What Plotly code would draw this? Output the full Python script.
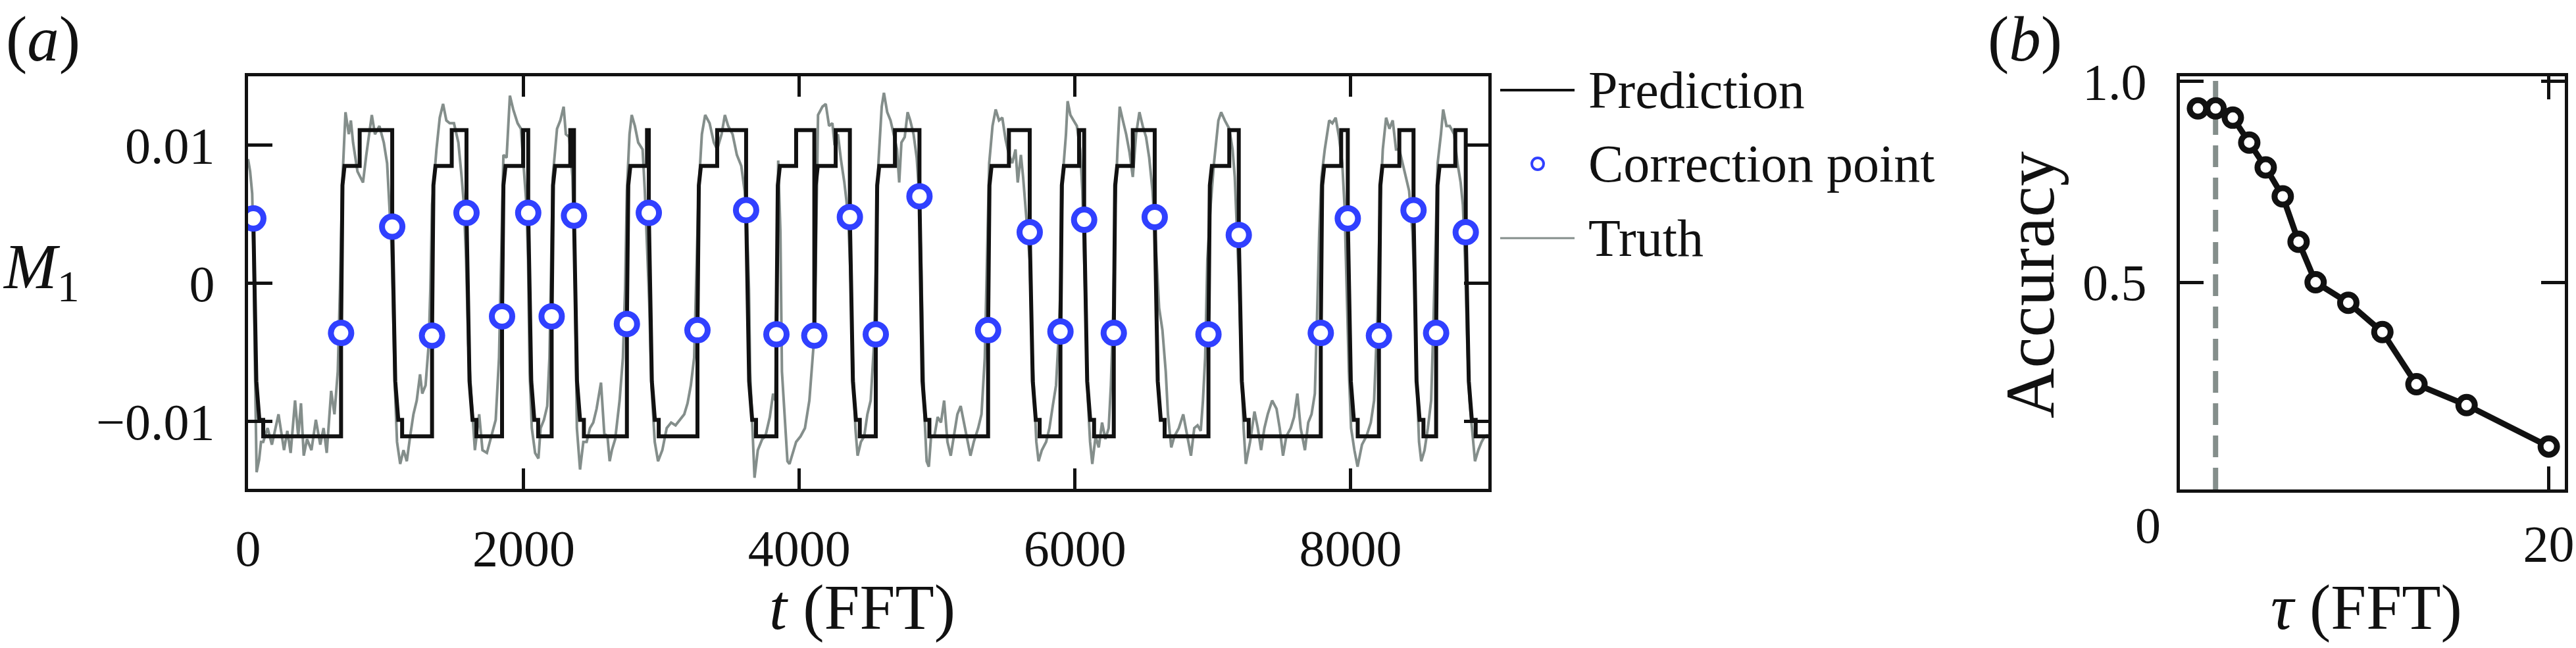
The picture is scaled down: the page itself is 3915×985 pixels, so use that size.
import numpy as np
import plotly.graph_objects as go

# ---------------- panel (a) data ----------------
# Truth signal M1 (units of 1e-3), in five stretches
truth_t_1 = [0, 15, 30, 40, 50, 62, 80, 94, 110, 142, 173, 221, 261, 285, 309, 341, 364, 384, 404, 428,
             460, 492, 524, 548, 571, 603, 627, 651, 667, 683, 707, 731, 746, 762, 794, 834, 858, 898, 921, 953,
             985, 1009, 1025, 1041, 1049, 1065, 1081, 1104, 1128, 1152, 1176, 1200, 1224, 1248, 1264, 1288, 1311, 1323, 1335, 1367,
             1391, 1415, 1439, 1463, 1494, 1526, 1550, 1566, 1582, 1598, 1622, 1646, 1677, 1701, 1733, 1765, 1797, 1821, 1837, 1853]
truth_m_1 = [9.0, 8.1, 6.5, 2.0, -6.0, -13.7, -12.8, -11.5, -11.5, -10.5, -11.7, -9.5, -12.1, -10.7, -12.3, -8.5, -11.1, -8.7, -12.5, -11.3,
             -12.1, -9.9, -11.7, -10.5, -12.3, -7.8, -9.5, -6.4, -0.4, 7.1, 12.4, 10.8, 11.8, 10.2, 8.1, 7.3, 9.3, 12.2, 10.8, 11.4,
             10.2, 8.7, 5.7, 2.7, -0.4, -7.4, -11.5, -13.1, -12.1, -12.9, -11.1, -9.5, -8.5, -6.6, -8.0, -7.4, -4.4, -0.4, 5.7, 9.7,
             12.0, 13.0, 11.8, 11.6, 11.6, 10.2, 7.7, 5.7, 1.7, -4.4, -8.5, -12.1, -9.5, -12.1, -12.3, -11.1, -9.9, -5.4, 1.7, 9.3]

truth_t_2 = [1876, 1900, 1924, 1956, 1980, 2004, 2020, 2032, 2043, 2059, 2083, 2107, 2123, 2147, 2171, 2187, 2198, 2211, 2242, 2266,
             2290, 2306, 2330, 2354, 2370, 2378, 2386, 2409, 2433, 2457, 2481, 2505, 2529, 2561, 2585, 2608, 2624, 2640, 2664, 2696,
             2720, 2736, 2749, 2768, 2784, 2807, 2831, 2863, 2879, 2895, 2911, 2927, 2951, 2975, 3006, 3038, 3070, 3102, 3134, 3165,
             3189, 3213, 3237, 3253, 3269, 3293, 3317, 3349, 3380, 3404, 3436, 3460, 3484, 3516, 3547, 3579, 3603, 3619, 3635, 3643,
             3659, 3675, 3699, 3731]
truth_m_2 = [9.1, 13.6, 12.6, 11.6, 11.2, 8.1, 5.7, 1.7, -6.4, -10.5, -12.3, -12.7, -10.5, -9.9, -8.9, -5.4, 1.7, 7.7, 11.2, 11.8,
             12.8, 10.8, 10.6, 7.7, 1.7, -6.4, -10.5, -13.5, -11.5, -11.5, -10.5, -10.1, -9.1, -7.2, -10.9, -11.1, -12.9, -12.1, -11.3, -8.5,
             -5.4, -0.4, 6.7, 10.8, 12.2, 11.4, 10.2, 9.7, 6.7, 2.7, -1.4, -7.4, -11.5, -12.9, -12.1, -10.5, -10.1, -10.3, -9.9, -9.5,
             -8.7, -7.4, -5.4, 0.6, 6.7, 10.8, 12.2, 11.6, 10.2, 9.7, 10.8, 12.2, 11.4, 10.8, 9.3, 8.5, 6.7, 4.7, -0.4, -6.4,
             -10.5, -14.1, -12.1, -11.3]

truth_t_3 = [3754, 3786, 3810, 3826, 3847, 3863, 3874, 3914, 3929, 3977, 4009, 4041, 4073, 4097, 4109, 4120, 4128, 4136, 4168, 4192,
             4216, 4240, 4256, 4280, 4303, 4327, 4343, 4359, 4375, 4391, 4407, 4423, 4447, 4471, 4494, 4518, 4542, 4558, 4574, 4598,
             4614, 4638, 4662, 4685, 4709, 4725, 4741, 4765, 4786, 4805, 4829, 4852, 4868, 4884, 4897, 4908, 4924, 4940, 4956, 4980,
             5004, 5028, 5051, 5075, 5099, 5123, 5147, 5171, 5195, 5219, 5242, 5266, 5298, 5322, 5346, 5362, 5378, 5402, 5425, 5449,
             5473, 5497, 5521, 5545]
truth_m_3 = [-11.1, -9.7, -8.0, -8.5, 8.9, 3.7, -6.4, -12.9, -13.1, -11.5, -11.1, -10.5, -8.5, -5.4, -3.8, 1.7, 7.0, 12.2, 12.8, 13.0,
             11.4, 11.6, 10.0, 10.8, 8.9, 7.3, 5.9, 3.7, -0.4, -6.4, -10.5, -12.5, -11.5, -11.1, -9.5, -8.5, -4.4, 1.7, 8.7, 12.8,
             13.8, 12.4, 11.8, 10.8, 9.7, 7.3, 10.2, 10.6, 12.4, 11.8, 10.8, 9.1, 6.7, 1.7, -4.4, -9.5, -12.9, -13.3, -11.1, -11.1,
             -9.7, -10.1, -8.5, -11.5, -12.5, -11.1, -9.5, -8.9, -10.1, -11.5, -12.5, -11.5, -10.5, -9.5, -5.4, 1.7, 8.7, 11.4, 12.6, 11.8,
             12.0, 10.4, 9.3, 8.7]

truth_t_4 = [5569, 5585, 5608, 5624, 5640, 5656, 5672, 5688, 5704, 5720, 5736, 5760, 5791, 5815, 5839, 5863, 5879, 5895, 5911, 5935,
             5947, 5967, 5990, 6014, 6038, 6054, 6062, 6078, 6094, 6110, 6126, 6150, 6173, 6197, 6221, 6245, 6261, 6277, 6293, 6309,
             6325, 6348, 6372, 6396, 6420, 6444, 6468, 6492, 6516, 6539, 6563, 6587, 6611, 6635, 6659, 6675, 6699, 6722, 6754, 6786,
             6818, 6842, 6866, 6890, 6913, 6929, 6945, 6961, 6985, 7009, 7041, 7061, 7088, 7120, 7144, 7160, 7176, 7192, 7208, 7224,
             7240, 7271, 7303, 7327, 7351, 7375, 7399, 7431]
truth_m_4 = [9.7, 7.3, 9.3, 7.7, 5.7, 3.7, 1.7, -4.4, -8.5, -11.5, -12.9, -12.1, -11.5, -10.5, -8.9, -7.4, -4.4, -0.4, 7.7, 10.8,
             13.2, 12.2, 11.8, 11.4, 9.7, 6.7, 3.7, -2.4, -8.5, -11.5, -13.1, -11.1, -11.9, -10.1, -11.3, -10.5, -7.4, -2.4, 5.7, 9.7,
             12.8, 11.8, 10.8, 9.5, 7.7, 10.8, 12.4, 11.4, 10.6, 9.1, 6.7, 2.7, -1.8, -3.4, -6.4, -9.5, -11.9, -11.1, -10.5, -9.5,
             -11.3, -12.5, -10.5, -10.3, -10.7, -8.5, -5.4, 1.7, 5.7, 8.7, 11.8, 12.4, 11.8, 11.2, 9.7, 7.7, 3.7, -0.4, -6.4, -10.5,
             -13.1, -11.5, -9.3, -10.5, -12.1, -10.5, -9.5, -8.5]

truth_t_5 = [7463, 7486, 7510, 7534, 7566, 7590, 7614, 7638, 7669, 7693, 7717, 7741, 7757, 7773, 7789, 7813, 7845, 7868, 7892, 7916,
             7940, 7956, 7972, 7988, 8004, 8028, 8051, 8083, 8115, 8147, 8171, 8195, 8211, 8234, 8258, 8282, 8306, 8330, 8354, 8378,
             8402, 8425, 8449, 8465, 8478, 8497, 8513, 8537, 8561, 8585, 8600, 8616, 8632, 8656, 8672, 8696, 8720, 8752, 8776, 8799,
             8815, 8831, 8847, 8863, 8887, 8903, 8927, 8951, 8974, 8998]
truth_m_5 = [-9.1, -10.5, -12.5, -11.1, -10.5, -9.7, -8.0, -10.5, -12.1, -10.1, -9.5, -8.0, -2.4, 3.7, 7.7, 9.7, 11.8, 11.6, 12.0, 10.6,
             8.7, 5.7, -0.4, -6.4, -10.5, -12.1, -13.3, -11.7, -11.1, -10.1, -8.5, -2.4, 4.7, 9.7, 12.0, 11.2, 11.8, 9.7, 9.7, 8.7,
             7.7, 6.7, 3.7, -0.4, -6.4, -11.5, -12.9, -12.1, -10.5, -8.5, -3.4, 3.7, 8.7, 10.8, 12.6, 11.4, 11.4, 10.8, 8.7, 7.3,
             5.7, 1.7, -4.4, -8.5, -11.1, -12.9, -12.1, -11.5, -11.1, -11.0]

# Correction points (t, M1 in units of 1e-3)
corr_t = [38, 675, 1046, 1335, 1585, 1843, 2033, 2203, 2365, 2749, 2908, 3261, 3614, 3834, 4109, 4367,
          4555, 4872, 5370, 5672, 5895, 6067, 6282, 6579, 6969, 7189, 7784, 7980, 8206, 8457, 8621, 8836]
corr_m = [4.7, -3.6, 4.1, -3.8, 5.1, -2.4, 5.1, -2.4, 4.9, -2.95, 5.1, -3.4, 5.3, -3.7, -3.8, 4.8,
          -3.7, 6.3, -3.4, 3.7, -3.5, 4.6, -3.6, 4.8, -3.7, 3.5, -3.6, 4.7, -3.8, 5.3, -3.6, 3.7]

# Prediction: times where the predicted upper plateau steps from the middle level to the top level
pred_step_t = [810, 1478, 1996, 2338, 2895, 3404, 3977, 4264, 4694, 5521, 6030, 6420, 7120, 7932, 8354, 8760]
# prediction levels (units of 1e-3)
pred_levels = {"low": -11.1, "low_knee": -9.9, "fall_knee": -7.1, "fall_mid": 0.5,
               "rise_knee": 7.1, "mid": 8.5, "high": 11.1}
# time offsets of the knees after a correction point (FFT)
pred_rise_dt = [10, 25]
pred_fall_dt = [8, 22, 44, 72]
t_end = 9000

# ---------------- panel (b) data ----------------
tau = [2.5, 3.38, 4.24, 5.06, 5.88, 6.73, 7.52, 8.37, 10.0, 11.7, 13.4, 15.9, 20.0]
accuracy = [0.933, 0.933, 0.910, 0.848, 0.786, 0.714, 0.601, 0.500, 0.449, 0.376, 0.246, 0.194, 0.091]
tau_ref = 3.38

# ---------------- build series ----------------
truth_t = truth_t_1 + truth_t_2 + truth_t_3 + truth_t_4 + truth_t_5
truth_m = np.array(truth_m_1 + truth_m_2 + truth_m_3 + truth_m_4 + truth_m_5) * 1e-3

L = pred_levels
pred_t, pred_v = [], []
level = None
k = 0
for tc, mc in zip(corr_t, corr_m):
    if level is not None:
        pred_t.append(tc); pred_v.append(level)
    pred_t.append(tc); pred_v.append(mc)
    if mc < 0:
        st = pred_step_t[k]; k += 1
        pred_t += [tc + pred_rise_dt[0], tc + pred_rise_dt[1], st, st]
        pred_v += [L["rise_knee"], L["mid"], L["mid"], L["high"]]
        level = L["high"]
    else:
        d = pred_fall_dt
        pred_t += [tc + d[0], tc + d[1], tc + d[2], tc + d[3], tc + d[3]]
        pred_v += [L["fall_mid"], L["fall_knee"], L["low_knee"], L["low_knee"], L["low"]]
        level = L["low"]
pred_t.append(t_end); pred_v.append(level)
pred_v = np.array(pred_v) * 1e-3
corr_v = np.array(corr_m) * 1e-3

FONT = "Liberation Serif"
INK = "#111111"
BLUE = "#3040ff"
GRAY = "#848e8b"

fig = go.Figure()
fig.add_trace(go.Scatter(x=truth_t, y=truth_m, mode="lines", name="Truth",
                         line=dict(color=GRAY, width=4), xaxis="x", yaxis="y"))
fig.add_trace(go.Scatter(x=pred_t, y=pred_v, mode="lines", name="Prediction",
                         line=dict(color=INK, width=6), xaxis="x", yaxis="y"))
fig.add_trace(go.Scatter(x=corr_t, y=corr_v, mode="markers", name="Correction point",
                         marker=dict(symbol="circle", size=31, color="white",
                                     line=dict(color=BLUE, width=9)),
                         xaxis="x", yaxis="y"))
fig.add_trace(go.Scatter(x=tau, y=accuracy, mode="lines+markers", name="Accuracy",
                         line=dict(color=INK, width=9),
                         marker=dict(symbol="circle", size=25, color="white",
                                     line=dict(color=INK, width=9)),
                         xaxis="x2", yaxis="y2"))

fig.add_shape(type="line", xref="x2", yref="y2 domain", x0=tau_ref, x1=tau_ref, y0=0, y1=1,
              line=dict(color=GRAY, width=8, dash="33px,16px"), layer="below")

W, H = 3915, 985
def px(x): return x / W
def py(y): return 1 - y / H

axis_common = dict(showline=True, linecolor=INK, linewidth=5, mirror="allticks", automargin=False,
                   ticks="inside", tickcolor=INK, tickwidth=5, showgrid=False, zeroline=False,
                   tickfont=dict(family=FONT, size=78, color=INK))

fig.update_layout(
    width=W, height=H, margin=dict(l=0, r=0, t=0, b=0, pad=0, autoexpand=False),
    paper_bgcolor="white", plot_bgcolor="white", showlegend=False,
    xaxis=dict(domain=[px(377), px(2262)], anchor="y", range=[0, 9000],
               tickvals=[0, 2000, 4000, 6000, 8000], ticklen=31, ticklabelstandoff=18, **axis_common),
    yaxis=dict(domain=[py(743), py(116)], anchor="x", range=[-0.0149, 0.0150],
               tickvals=[-0.01, 0, 0.01], ticktext=["\u22120.01", "0", "0.01"],
               ticklen=37, ticklabelstandoff=30, **axis_common),
    xaxis2=dict(domain=[px(3313), px(3898)], anchor="y2", range=[1.6, 20.8],
                tickvals=[20], ticklen=35, ticklabelstandoff=10, **axis_common),
    yaxis2=dict(domain=[py(744), py(116)], anchor="x2", range=[-0.016, 1.013],
                tickvals=[0.5, 1.0], ticktext=["0.5", "1.0"], ticklen=36, ticklabelstandoff=30,
                **axis_common),
)

def ann(text, x, y, size, xanchor="center", textangle=0):
    fig.add_annotation(text=text, x=px(x), y=py(y), xref="paper", yref="paper",
                       showarrow=False, xanchor=xanchor, yanchor="middle", textangle=textangle,
                       font=dict(family=FONT, size=size, color=INK))

ann("(<i>a</i>)", 65, 60, 97)
ann("(<i>b</i>)", 3077, 60, 97)
ann("<i>M</i><sub>1</sub>", 2, 412, 97, xanchor="left")
ann("<i>t</i> (FFT)", 1310, 923, 97)
ann("Accuracy", 3086, 433, 106, textangle=-90)
ann("<i>\u03c4</i> (FFT)", 3596, 923, 97)
ann("0", 3264, 798, 78)

# legend
fig.add_shape(type="line", xref="paper", yref="paper", x0=px(2280), x1=px(2393), y0=py(137), y1=py(137),
              line=dict(color=INK, width=4))
fig.add_shape(type="circle", xref="paper", yref="paper", x0=px(2328), x1=px(2346), y0=py(258), y1=py(240),
              line=dict(color=BLUE, width=4), fillcolor="white")
fig.add_shape(type="line", xref="paper", yref="paper", x0=px(2280), x1=px(2393), y0=py(362), y1=py(362),
              line=dict(color=GRAY, width=3))
ann("Prediction", 2412, 137, 80, xanchor="left")
ann("Correction point", 2412, 249, 80, xanchor="left")
ann("Truth", 2412, 362, 80, xanchor="left")

fig.write_html("out.html", config={"displayModeBar": False},
               post_script="document.body.style.margin='0';document.body.style.overflow='hidden';")
